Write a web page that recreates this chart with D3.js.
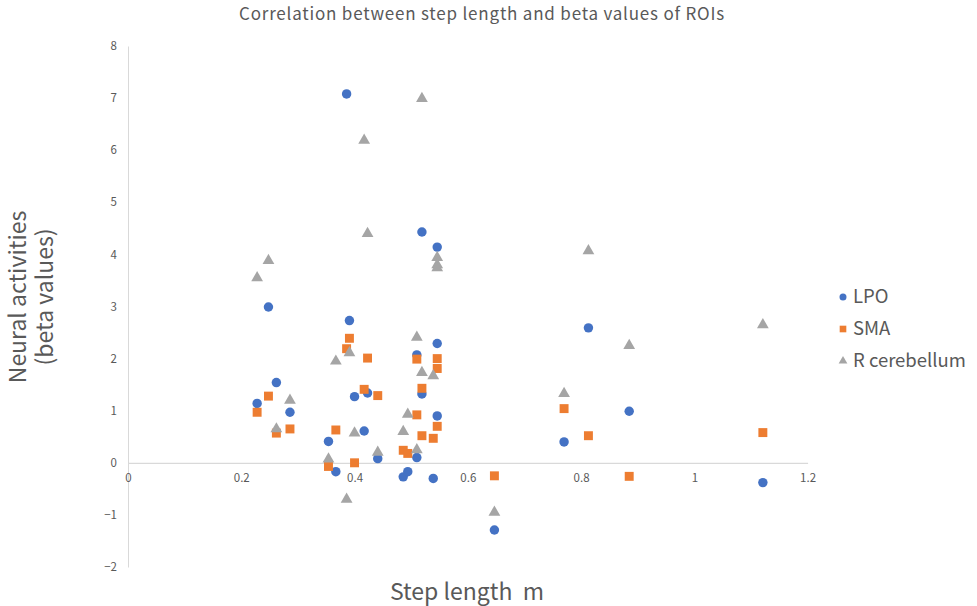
<!DOCTYPE html>
<html>
<head>
<meta charset="utf-8">
<script src="https://cdn.jsdelivr.net/npm/d3@7"></script>
<style>
  body { margin: 0; background: #fff; }
  text { font-family: "Noto Sans CJK JP", "Noto Sans", sans-serif; fill: #595959; }
</style>
</head>
<body>
<div id="scatter"></div>
<script>
var svgWidth = 977;
var svgHeight = 606;

// step length per subject (m)
var stepLength = [0.228, 0.248, 0.262, 0.286, 0.354, 0.367, 0.386, 0.391, 0.400, 0.417,
  0.423, 0.441, 0.486, 0.494, 0.510, 0.510, 0.519, 0.519, 0.539, 0.546,
  0.546, 0.546, 0.647, 0.770, 0.813, 0.885, 1.121];
var lpo = [1.14, 2.99, 1.54, 0.97, 0.41, -0.17, 7.08, 2.73, 1.27, 0.61,
  1.34, 0.08, -0.27, -0.17, 2.07, 0.10, 4.43, 1.32, -0.30, 4.14,
  2.29, 0.90, -1.29, 0.40, 2.59, 0.99, -0.38];
var sma = [0.97, 1.28, 0.57, 0.65, -0.07, 0.63, 2.19, 2.39, 0.00, 1.41,
  2.01, 1.29, 0.24, 0.18, 1.99, 0.92, 1.43, 0.52, 0.47, 2.00,
  1.81, 0.70, -0.25, 1.04, 0.52, -0.26, 0.58];
var rCerebellum = [3.55, 3.88, 0.65, 1.20, 0.07, 1.95, -0.70, 2.11, 0.57, 6.19,
  4.40, 0.20, 0.60, 0.93, 2.41, 0.25, 6.99, 1.73, 1.67, 3.94,
  3.80, 3.74, -0.95, 1.33, 4.07, 2.25, 2.65];

var xTicks = [0, 0.2, 0.4, 0.6, 0.8, 1, 1.2];
var yTicks = [-2, -1, 0, 1, 2, 3, 4, 5, 6, 7, 8];

var seriesNames = ["LPO", "SMA", "R cerebellum"];
var seriesValues = [lpo, sma, rCerebellum];
var seriesColors = ["#4472C4", "#ED7D31", "#A5A5A5"];
var seriesShapes = [d3.symbolCircle, d3.symbolSquare, d3.symbolTriangle];
var seriesSizes = [70, 80, 60];

var chartMargin = { top: 46, right: 170, bottom: 39, left: 128 };
var chartWidth = svgWidth - chartMargin.left - chartMargin.right;
var chartHeight = svgHeight - chartMargin.top - chartMargin.bottom;

var svg = d3.select("#scatter").append("svg")
  .attr("width", svgWidth)
  .attr("height", svgHeight);

var chartGroup = svg.append("g")
  .attr("transform", `translate(${chartMargin.left}, ${chartMargin.top})`);

var xScale = d3.scaleLinear().domain([0, 1.2]).range([0, chartWidth + 0.6]);
var yScale = d3.scaleLinear().domain([-2, 8]).range([chartHeight, 0]);

// y axis
var yAxis = chartGroup.append("g")
  .call(d3.axisLeft(yScale).tickValues(yTicks).tickSize(0).tickPadding(11).tickFormat(d3.format("d")));
yAxis.select(".domain").attr("stroke", "#d9d9d9").attr("stroke-width", 1);
yAxis.selectAll("text").style("font-size", "11.5px").attr("fill", "#595959");

// x axis on y = 0
var xAxis = chartGroup.append("g")
  .attr("transform", `translate(0, ${yScale(0)})`)
  .call(d3.axisBottom(xScale).tickValues(xTicks).tickSize(0).tickPadding(11)
    .tickFormat(function(d) { return d3.format("~g")(d); }));
xAxis.select(".domain").attr("stroke", "#d9d9d9").attr("stroke-width", 1.3);
xAxis.selectAll("text").style("font-size", "11.5px").attr("fill", "#595959");

// points
seriesValues.forEach(function(values, i) {
  chartGroup.selectAll(".dot" + i)
    .data(values)
    .enter()
    .append("path")
      .attr("class", "dot" + i)
      .attr("d", d3.symbol().type(seriesShapes[i]).size(seriesSizes[i]))
      .attr("transform", function(d, j) {
        return `translate(${xScale(stepLength[j])}, ${yScale(d)})`;
      })
      .style("fill", seriesColors[i]);
});

// title
svg.append("text")
  .attr("x", 482)
  .attr("y", 20)
  .attr("text-anchor", "middle")
  .style("font-size", "17px")
  .style("letter-spacing", "0.8px")
  .text("Correlation between step length and beta values of ROIs");

// axis titles
svg.append("text")
  .attr("x", 467)
  .attr("y", 600)
  .attr("text-anchor", "middle")
  .style("font-size", "23px")
  .text("Step length\u00a0\u00a0m");

var yTitle = svg.append("text")
  .attr("transform", "translate(26, 297) rotate(-90)")
  .attr("text-anchor", "middle")
  .style("font-size", "23px");
yTitle.append("tspan").attr("x", 0).attr("dy", 0).text("Neural activities");
yTitle.append("tspan").attr("x", 0).attr("dy", 27).text("(beta values)");

// legend
var legend = svg.append("g").attr("transform", "translate(843, 297)");
seriesNames.forEach(function(name, i) {
  var row = legend.append("g").attr("transform", `translate(0, ${i * 32})`);
  row.append("path")
    .attr("d", d3.symbol().type(seriesShapes[i]).size(seriesSizes[i] * 0.55))
    .style("fill", seriesColors[i]);
  row.append("text")
    .attr("x", 10)
    .attr("y", 6)
    .style("font-size", "18.5px")
    .text(name);
});
</script>
</body>
</html>
